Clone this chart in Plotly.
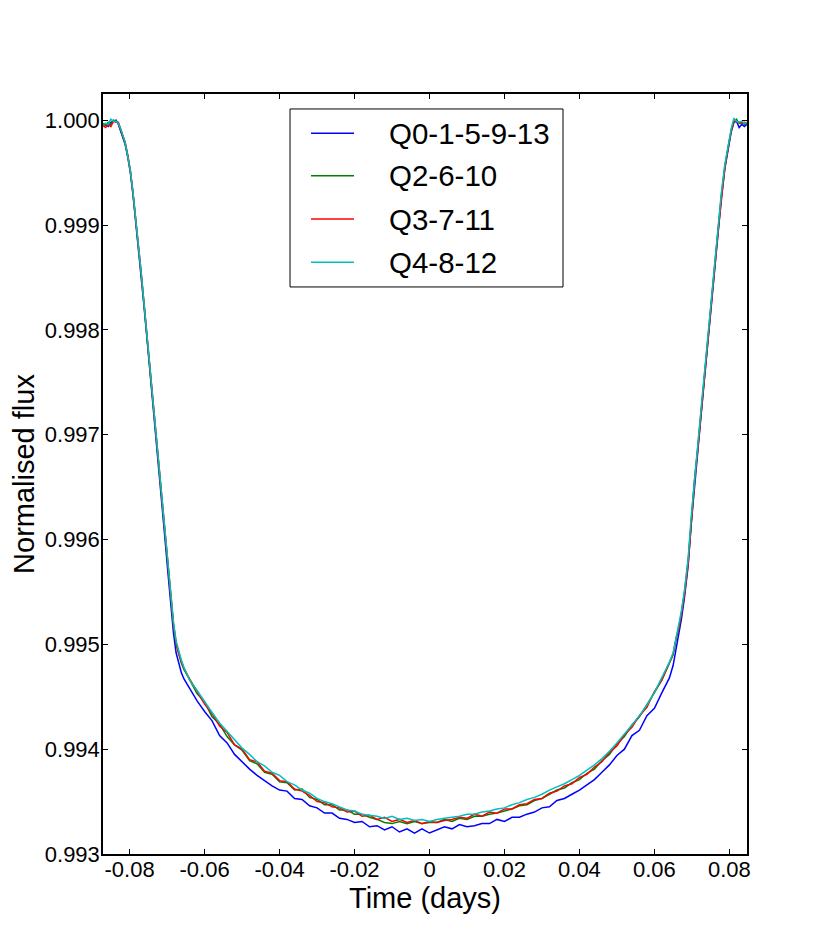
import plotly.graph_objects as go

# ---------------- data ----------------
time_days = [
    -0.0871, -0.0864, -0.0857, -0.0850, -0.0843, -0.0836, -0.0830, -0.0823,
    -0.0812, -0.0805, -0.0798, -0.0791, -0.0784, -0.0776, -0.0769, -0.0762,
    -0.0755, -0.0748, -0.0741, -0.0733, -0.0726, -0.0719, -0.0712, -0.0705,
    -0.0698, -0.0690, -0.0683, -0.0676, -0.0669, -0.0662, -0.0655,
    -0.064, -0.062, -0.060, -0.058, -0.056, -0.054, -0.052, -0.050, -0.048,
    -0.046, -0.044, -0.042, -0.040, -0.038, -0.036, -0.034, -0.032, -0.030,
    -0.028, -0.026, -0.024, -0.022, -0.020, -0.018, -0.016, -0.014, -0.012,
    -0.010, -0.008, -0.006, -0.004, -0.002, 0.000, 0.002, 0.004, 0.006,
    0.008, 0.010, 0.012, 0.014, 0.016, 0.018, 0.020, 0.022, 0.024, 0.026,
    0.028, 0.030, 0.032, 0.034, 0.036, 0.038, 0.040, 0.042, 0.044, 0.046,
    0.048, 0.050, 0.052, 0.054, 0.056, 0.058, 0.060, 0.062, 0.064,
    0.0650, 0.0658, 0.0665, 0.0672, 0.0680, 0.0690, 0.0698, 0.0707, 0.0716,
    0.0723, 0.0734, 0.0745, 0.0755, 0.0763, 0.0771, 0.0779, 0.0788, 0.0797,
    0.0805, 0.0812, 0.0819, 0.0826, 0.0833, 0.0840, 0.0847,
]

flux_q0_1_5_9_13 = [
    0.99997, 0.99996, 0.99994, 0.99998, 0.99999, 1.00000, 0.99996, 0.99989,
    0.99977, 0.99965, 0.99950, 0.99929, 0.99905, 0.99877, 0.99851, 0.99824,
    0.99797, 0.99770, 0.99742, 0.99712, 0.99684, 0.99655, 0.99627, 0.99598,
    0.99569, 0.99536, 0.99511, 0.99492, 0.99481, 0.99473, 0.99467,
    0.99458, 0.99446, 0.99436, 0.99427, 0.99413, 0.99406, 0.99395, 0.99388, 0.99381,
    0.99375, 0.99370, 0.99365, 0.99361, 0.99360, 0.99353, 0.99352, 0.99346, 0.99344,
    0.99339, 0.99339, 0.99334, 0.99333, 0.99330, 0.99331, 0.99326, 0.99327, 0.99323,
    0.99326, 0.99321, 0.99324, 0.99320, 0.99324, 0.99320, 0.99323, 0.99326, 0.99324,
    0.99328, 0.99326, 0.99327, 0.99329, 0.99329, 0.99333, 0.99331, 0.99335, 0.99335, 0.99338,
    0.99340, 0.99344, 0.99345, 0.99351, 0.99353, 0.99357, 0.99361, 0.99366, 0.99371, 0.99378,
    0.99385, 0.99394, 0.99400, 0.99413, 0.99418, 0.99432, 0.99439, 0.99454, 0.99468,
    0.99480, 0.99496, 0.99507, 0.99524, 0.99544, 0.99575, 0.99614, 0.99652, 0.99685,
    0.99713, 0.99755, 0.99797, 0.99837, 0.99867, 0.99897, 0.99927, 0.99954, 0.99973,
    0.99989, 0.99998, 0.99999, 0.99993, 0.99996, 0.99994, 0.99996,
]

flux_q2_6_10 = [
    0.99996, 0.99995, 0.99998, 0.99996, 1.00000, 0.99999, 0.99997, 0.99990,
    0.99978, 0.99966, 0.99951, 0.99930, 0.99907, 0.99879, 0.99853, 0.99826,
    0.99799, 0.99772, 0.99744, 0.99714, 0.99686, 0.99658, 0.99630, 0.99602,
    0.99574, 0.99542, 0.99518, 0.99500, 0.99490, 0.99482, 0.99476,
    0.99466, 0.99453, 0.99445, 0.99431, 0.99424, 0.99412, 0.99404, 0.99399, 0.99389,
    0.99386, 0.99378, 0.99376, 0.99369, 0.99368, 0.99361, 0.99362, 0.99354, 0.99352,
    0.99347, 0.99347, 0.99342, 0.99342, 0.99338, 0.99338, 0.99335, 0.99333, 0.99330,
    0.99329, 0.99331, 0.99329, 0.99331, 0.99329, 0.99330, 0.99330, 0.99333, 0.99331,
    0.99334, 0.99333, 0.99336, 0.99336, 0.99338, 0.99339, 0.99341, 0.99343, 0.99346, 0.99347,
    0.99351, 0.99353, 0.99357, 0.99361, 0.99363, 0.99368, 0.99371, 0.99377, 0.99381, 0.99389,
    0.99395, 0.99405, 0.99412, 0.99423, 0.99431, 0.99442, 0.99454, 0.99466, 0.99481,
    0.99490, 0.99505, 0.99515, 0.99530, 0.99549, 0.99580, 0.99619, 0.99657, 0.99689,
    0.99717, 0.99759, 0.99800, 0.99840, 0.99870, 0.99900, 0.99930, 0.99956, 0.99975,
    0.99990, 0.99998, 1.00001, 0.99997, 0.99998, 0.99996, 0.99997,
]

flux_q3_7_11 = [
    0.99995, 0.99993, 0.99996, 0.99994, 0.99999, 0.99998, 0.99998, 0.99991,
    0.99979, 0.99967, 0.99952, 0.99931, 0.99908, 0.99880, 0.99854, 0.99827,
    0.99800, 0.99773, 0.99745, 0.99715, 0.99687, 0.99659, 0.99631, 0.99603,
    0.99575, 0.99543, 0.99520, 0.99502, 0.99491, 0.99484, 0.99477,
    0.99467, 0.99455, 0.99443, 0.99434, 0.99422, 0.99416, 0.99404, 0.99400, 0.99390,
    0.99388, 0.99379, 0.99377, 0.99370, 0.99369, 0.99362, 0.99360, 0.99356, 0.99350,
    0.99349, 0.99345, 0.99344, 0.99340, 0.99341, 0.99336, 0.99337, 0.99333, 0.99335,
    0.99331, 0.99333, 0.99330, 0.99332, 0.99329, 0.99331, 0.99330, 0.99332, 0.99333,
    0.99335, 0.99334, 0.99338, 0.99336, 0.99340, 0.99339, 0.99343, 0.99343, 0.99347, 0.99348,
    0.99352, 0.99353, 0.99358, 0.99360, 0.99365, 0.99367, 0.99373, 0.99376, 0.99383, 0.99388,
    0.99397, 0.99403, 0.99414, 0.99421, 0.99432, 0.99440, 0.99455, 0.99466, 0.99483,
    0.99491, 0.99506, 0.99516, 0.99529, 0.99547, 0.99577, 0.99616, 0.99655, 0.99687,
    0.99715, 0.99757, 0.99798, 0.99838, 0.99868, 0.99898, 0.99928, 0.99955, 0.99975,
    0.99991, 0.99999, 0.99999, 0.99998, 0.99997, 0.99998, 0.99997,
]

flux_q4_8_12 = [
    0.99996, 0.99997, 0.99996, 1.00001, 0.99999, 0.99999, 0.99997, 0.99991,
    0.99979, 0.99967, 0.99952, 0.99931, 0.99908, 0.99880, 0.99854, 0.99827,
    0.99800, 0.99773, 0.99745, 0.99715, 0.99687, 0.99659, 0.99632, 0.99604,
    0.99576, 0.99544, 0.99521, 0.99503, 0.99493, 0.99485, 0.99478,
    0.99466, 0.99456, 0.99445, 0.99435, 0.99425, 0.99417, 0.99408, 0.99401, 0.99395,
    0.99388, 0.99384, 0.99378, 0.99375, 0.99369, 0.99366, 0.99361, 0.99358, 0.99353,
    0.99350, 0.99348, 0.99345, 0.99342, 0.99341, 0.99338, 0.99337, 0.99336, 0.99334,
    0.99336, 0.99333, 0.99334, 0.99332, 0.99333, 0.99331, 0.99333, 0.99334, 0.99335,
    0.99336, 0.99338, 0.99338, 0.99340, 0.99341, 0.99343, 0.99344, 0.99347, 0.99349, 0.99352,
    0.99354, 0.99357, 0.99361, 0.99364, 0.99367, 0.99371, 0.99375, 0.99380, 0.99385, 0.99391,
    0.99398, 0.99406, 0.99414, 0.99423, 0.99432, 0.99442, 0.99454, 0.99468, 0.99483,
    0.99492, 0.99507, 0.99517, 0.99532, 0.99551, 0.99582, 0.99621, 0.99659, 0.99691,
    0.99719, 0.99761, 0.99802, 0.99842, 0.99872, 0.99902, 0.99932, 0.99958, 0.99977,
    0.99992, 1.00002, 0.99999, 0.99998, 0.99999, 0.99997, 0.99998,
]

series_names = ["Q0-1-5-9-13", "Q2-6-10", "Q3-7-11", "Q4-8-12"]
series_values = [flux_q0_1_5_9_13, flux_q2_6_10, flux_q3_7_11, flux_q4_8_12]
series_colors = ["#0000ff", "#008000", "#ff0000", "#00bfbf"]

x_ticks = [-0.08, -0.06, -0.04, -0.02, 0.0, 0.02, 0.04, 0.06, 0.08]
x_tick_labels = ["-0.08", "-0.06", "-0.04", "-0.02", "0", "0.02", "0.04", "0.06", "0.08"]
y_ticks = [0.993, 0.994, 0.995, 0.996, 0.997, 0.998, 0.999, 1.000]
y_tick_labels = ["0.993", "0.994", "0.995", "0.996", "0.997", "0.998", "0.999", "1.000"]

# ---------------- figure ----------------
FONT = "Liberation Sans, Arial, Helvetica, sans-serif"
fig = go.Figure()
for name, vals, col in zip(series_names, series_values, series_colors):
    fig.add_trace(go.Scatter(
        x=time_days, y=vals, mode="lines", name=name,
        line=dict(color=col, width=1.5),
    ))

# legend box drawn in paper coordinates (matplotlib-style framed legend)
LEG_X0, LEG_X1, LEG_Y0, LEG_Y1 = 0.2904, 0.7143, 0.7461, 0.9803
ROW_Y = [0.9483, 0.8925, 0.8355, 0.7786]
SAMPLE_X0, SAMPLE_X1, TEXT_X = 0.3230, 0.3898, 0.4410

shapes = [dict(type="rect", xref="paper", yref="paper",
               x0=LEG_X0, x1=LEG_X1, y0=LEG_Y0, y1=LEG_Y1,
               line=dict(color="black", width=1), fillcolor="white", layer="above")]
annotations = []
for name, col, ry in zip(series_names, series_colors, ROW_Y):
    shapes.append(dict(type="line", xref="paper", yref="paper",
                       x0=SAMPLE_X0, x1=SAMPLE_X1, y0=ry, y1=ry,
                       line=dict(color=col, width=1.5), layer="above"))
    annotations.append(dict(xref="paper", yref="paper", x=TEXT_X, y=ry,
                            xanchor="left", yanchor="middle", showarrow=False,
                            text=name, font=dict(family=FONT, size=29.5, color="black")))

axis_common = dict(
    showline=True, linecolor="black", linewidth=1.5, mirror="ticks",
    ticks="inside", ticklen=5, tickwidth=1, tickcolor="black",
    showgrid=False, zeroline=False,
    tickfont=dict(family=FONT, size=22, color="black"),
)

fig.update_layout(
    width=831, height=950,
    margin=dict(l=95, r=92, t=86, b=104),
    paper_bgcolor="white", plot_bgcolor="white",
    font=dict(family=FONT, color="black"),
    showlegend=False,
    shapes=shapes,
    annotations=annotations,
    xaxis=dict(
        range=[-0.0871, 0.0847], tickvals=x_ticks, ticktext=x_tick_labels,
        ticklabelstandoff=-5,
        title=dict(text="Time (days)", font=dict(family=FONT, size=29), standoff=0),
        **axis_common,
    ),
    yaxis=dict(
        range=[0.993, 1.00025], tickvals=y_ticks, ticktext=y_tick_labels,
        ticklabelstandoff=-3,
        title=dict(text="Normalised flux", font=dict(family=FONT, size=29), standoff=5),
        **axis_common,
    ),
)

fig.write_html("out.html")
